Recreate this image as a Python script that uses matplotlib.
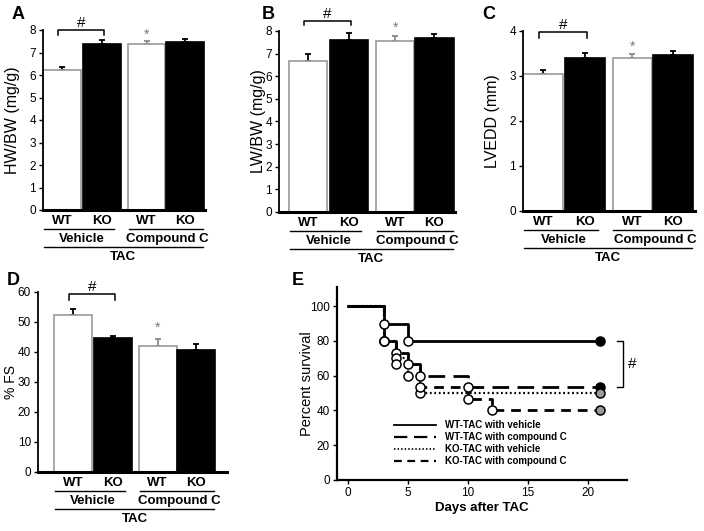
"""Cardiac hypertrophy panels (A-D) and survival curves (E) after TAC."""

import matplotlib

matplotlib.use("Agg")
import matplotlib.pyplot as plt
import matplotlib.transforms as mtransforms
from matplotlib.lines import Line2D

plt.rcParams["font.family"] = ["Liberation Sans", "DejaVu Sans"]

W, H = 704, 531

genotypes = ["WT", "KO", "WT", "KO"]
treatments = ["Vehicle", "Compound C"]

hw_bw = [6.22, 7.40, 7.40, 7.45]
hw_bw_err = [0.12, 0.15, 0.12, 0.15]
lw_bw = [6.68, 7.62, 7.55, 7.68]
lw_bw_err = [0.30, 0.28, 0.25, 0.17]
lvedd = [3.05, 3.41, 3.40, 3.47]
lvedd_err = [0.08, 0.09, 0.08, 0.09]
fs = [52.5, 44.7, 42.0, 40.8]
fs_err = [1.7, 0.7, 2.3, 1.8]

wt_veh_days = [0, 3, 5, 21]
wt_veh_surv = [100, 90, 80, 80]
wt_cc_days = [0, 3, 4, 5, 6, 10, 21]
wt_cc_surv = [100, 80, 73.3, 66.7, 60, 53.3, 53.3]
ko_veh_days = [0, 3, 4, 5, 6, 21]
ko_veh_surv = [100, 80, 70, 60, 50, 50]
ko_cc_days = [0, 3, 4, 6, 10, 12, 21]
ko_cc_surv = [100, 80, 66.7, 53.3, 46.7, 40, 40]

fig = plt.figure(figsize=(W / 100, H / 100), dpi=100)


def add_axes_px(left, top, right, bottom):
    return fig.add_axes([left / W, 1 - bottom / H, (right - left) / W, (bottom - top) / H])


def below(ax, px):
    return mtransforms.offset_copy(ax.get_xaxis_transform(), fig=fig, x=0, y=-px, units="dots")


def letter(x, y, s):
    fig.text(x / W, 1 - y / H, s, fontsize=13, fontweight="bold", ha="left", va="top")


def bar_panel(rect, values, errs, ylim, yticks, ylabel, label_px, label_size, xlim,
              bracket_y, tick_drop, star_y, spine_right=None):
    ax = add_axes_px(*rect)
    pos = [0, 1, 2.12, 3.08]
    faces = ["white", "black", "white", "black"]
    edges = ["#9a9a9a", "black", "#9a9a9a", "black"]
    err_cols = ["black", "black", "#8a8a8a", "black"]
    ax.bar(pos, values, width=0.94, color=faces, edgecolor=edges, linewidth=1.2, zorder=2)
    for x, v, e, c in zip(pos, values, errs, err_cols):
        ax.errorbar(x, v, yerr=[[0], [e]], color=c, capsize=2, elinewidth=1.3,
                    capthick=1.3, zorder=1)
    ax.set_xlim(*xlim)
    ax.set_ylim(*ylim)
    ax.set_yticks(yticks)
    ax.set_xticks([])
    ax.tick_params(axis="y", direction="out", length=3, width=1, labelsize=8.5, pad=2)
    for side in ("top", "right"):
        ax.spines[side].set_visible(False)
    ax.spines["left"].set_linewidth(1.3)
    ax.spines["bottom"].set_linewidth(2.2)
    if spine_right is not None:
        ax.spines["bottom"].set_bounds(xlim[0], spine_right)
    ax.set_ylabel(ylabel, fontsize=label_size, va="center")
    ax.yaxis.set_label_coords(-label_px / (rect[2] - rect[0]), 0.5)

    # significance bracket and star
    bx0, bx1 = pos[0] - 0.1, pos[1] + 0.05
    ax.plot([bx0, bx0, bx1, bx1], [bracket_y - tick_drop, bracket_y, bracket_y, bracket_y - tick_drop],
            color="black", lw=1.1, clip_on=False)
    ax.text((bx0 + bx1) / 2, bracket_y, "#", ha="center", va="bottom", fontsize=11)
    ax.text(pos[2], star_y, "*", ha="center", va="center", fontsize=10, color="#777777")

    # category labels beneath the axis
    kw = dict(ha="center", va="center", fontsize=9.5, fontweight="bold")
    for x, g in zip(pos, genotypes):
        ax.text(x, 0, g, transform=below(ax, 11), **kw)
    ax.plot([pos[0] - 0.45, pos[1] + 0.3], [0, 0], transform=below(ax, 19), color="black",
            lw=1, clip_on=False)
    ax.plot([pos[2] - 0.45, pos[3] + 0.45], [0, 0], transform=below(ax, 19), color="black",
            lw=1, clip_on=False)
    ax.text((pos[0] + pos[1]) / 2, 0, treatments[0], transform=below(ax, 29), **kw)
    ax.text((pos[2] + pos[3]) / 2 + 0.05, 0, treatments[1], transform=below(ax, 29), **kw)
    ax.plot([pos[0] - 0.45, pos[3] + 0.45], [0, 0], transform=below(ax, 37), color="black",
            lw=1, clip_on=False)
    ax.text((pos[0] + pos[3]) / 2, 0, "TAC", transform=below(ax, 47), **kw)
    return ax


bar_panel((43, 30, 205, 210), hw_bw, hw_bw_err, (0, 8), range(0, 9), "HW/BW (mg/g)", 30, 11.5,
          (-0.47, 3.58), 8.0, 0.2, 7.8)
bar_panel((279, 31, 455, 212), lw_bw, lw_bw_err, (0, 8), range(0, 9), "LW/BW (mg/g)", 21, 11.5,
          (-0.71, 3.58), 8.45, 0.2, 8.15)
bar_panel((523, 31, 695, 211), lvedd, lvedd_err, (0, 4), range(0, 5), "LVEDD (mm)", 31, 11.5,
          (-0.47, 3.6), 3.97, 0.12, 3.65)
bar_panel((38, 292, 227, 472), fs, fs_err, (0, 60), range(0, 61, 10), "% FS", 27, 10,
          (-0.87, 3.85), 59.3, 2.0, 48.0, spine_right=3.85)

letter(12, 6, "A")
letter(262, 6, "B")
letter(482, 6, "C")
letter(7, 272, "D")
letter(292, 272, "E")

# survival panel
ax = add_axes_px(337, 287, 627, 480)
curves = [
    (wt_veh_days, wt_veh_surv, "WT-TAC with vehicle", "-", 2.0, "black"),
    (wt_cc_days, wt_cc_surv, "WT-TAC with compound C", (0, (6, 3)), 2.0, "black"),
    (ko_veh_days, ko_veh_surv, "KO-TAC with vehicle", (0, (0.8, 1.2)), 1.6, "#9a9a9a"),
    (ko_cc_days, ko_cc_surv, "KO-TAC with compound C", (0, (3.5, 2.5)), 2.0, "#9a9a9a"),
]
handles = []
for days, surv, label, ls, lw, end_col in curves:
    ax.step(days, surv, where="post", color="black", linestyle=ls, lw=lw, zorder=2)
    ax.plot(days[1:-1], surv[1:-1], "o", ms=6.5, mfc="white", mec="black", mew=1.1, zorder=3)
    ax.plot(days[-1], surv[-1], "o", ms=6.5, mfc=end_col, mec="black", mew=1.1, zorder=3)
    handles.append(Line2D([], [], color="black", linestyle=ls,
                          lw=1.3 if ls == "-" else lw * 0.8))

ax.set_xlim(-0.9, 23.25)
ax.set_ylim(0, 111)
ax.set_xticks(range(0, 21, 5))
ax.set_yticks(range(0, 101, 20))
ax.tick_params(direction="out", length=3, width=1, labelsize=8.5, pad=2)
for side in ("top", "right"):
    ax.spines[side].set_visible(False)
ax.spines["left"].set_linewidth(1.6)
ax.spines["bottom"].set_linewidth(1.6)
ax.set_xlabel("Days after TAC", fontsize=9.5, fontweight="bold", labelpad=2)
ax.set_ylabel("Percent survival", fontsize=10.5, va="center")
ax.yaxis.set_label_coords(-30 / 290, 0.5)

ax.plot([22.4, 22.9, 22.9, 22.4], [80, 80, 53.3, 53.3], color="black", lw=1, clip_on=False)
ax.text(23.3, 66.5, "#", ha="left", va="center", fontsize=11, clip_on=False)

ax.legend(handles, [c[2] for c in curves], loc="upper left", bbox_to_anchor=(0.165, 0.355),
          frameon=False, prop={"size": 7, "weight": "bold"}, handlelength=4.4,
          handletextpad=0.9, labelspacing=0.2)

fig.savefig("out.png", dpi=100)
